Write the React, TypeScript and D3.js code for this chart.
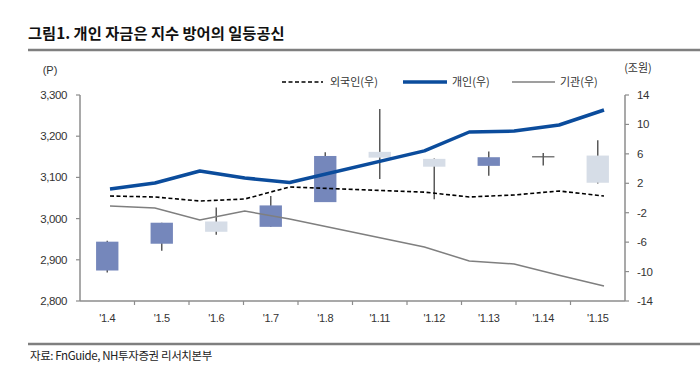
import React from "react";
import * as d3 from "d3";

// ---- data ----
const categories = ["'1.4", "'1.5", "'1.6", "'1.7", "'1.8", "'1.11", "'1.12", "'1.13", "'1.14", "'1.15"];
const openV = [2874, 2939, 2993, 2980, 3040, 3162, 3145, 3128, 3150, 3153];
const highV = [2946, 2990, 3027, 3055, 3161, 3266, 3146, 3163, 3159, 3190];
const lowV = [2869, 2922, 2961, 2980, 3040, 3096, 3047, 3104, 3129, 3085];
const closeV = [2944, 2990, 2968, 3032, 3152, 3148, 3126, 3149, 3150, 3087];

const lineDates = ["2021-01-04", "2021-01-05", "2021-01-06", "2021-01-07", "2021-01-08", "2021-01-11", "2021-01-12", "2021-01-13", "2021-01-14", "2021-01-15"];
const foreignV = [0.27, 0.14, -0.41, -0.14, 1.5, 0.8, 0.14, 0.41, 0.95, 0.27];
const retailV = [1.22, 2.04, 3.67, 2.72, 2.1, 6.4, 8.97, 9.1, 9.92, 11.96];
const instV = [-1.09, -1.36, -2.99, -1.77, -2.85, -6.66, -8.56, -8.97, -10.5, -11.96];

const leftTicks = [2800, 2900, 3000, 3100, 3200, 3300];
const rightTicks = [-14, -10, -6, -2, 2, 6, 10, 14];

const title = "그림1. 개인 자금은 지수 방어의 일등공신";
const source = "자료: FnGuide, NH투자증권 리서치본부";
const legendNames = ["외국인(우)", "개인(우)", "기관(우)"];

export default function App() {
  const W = 700, H = 383;
  const L = 80, R = 625, T = 95, B = 301;
  const x = d3.scaleBand<string>().domain(categories).range([L, R]).paddingInner(0).paddingOuter(0);
  const yL = d3.scaleLinear().domain([2800, 3300]).range([B, T]);
  const yR = d3.scaleLinear().domain([-14, 14]).range([B, T]);
  const parse = d3.timeParse("%Y-%m-%d");
  const dates = lineDates.map((d) => parse(d) as Date);
  const xT = d3.scaleTime().domain([dates[0], dates[dates.length - 1]]).range([L + 30, R - 21]);
  const bw = x.bandwidth() * 0.41;

  const mk = (vals: number[]) =>
    d3.line<number>().x((_, i) => xT(dates[i])).y((v) => yR(v))(vals) || "";

  const sans = "'Liberation Sans', Arial, sans-serif";
  const kr = "'Noto Sans CJK KR', 'Noto Sans', sans-serif";
  const axisCol = "#8c8c8c";
  const upCol = "#7587bb";
  const downCol = "#d6dde7";
  const wickCol = "#5a5a5a";

  return (
    <svg width={W} height={H} style={{ position: "absolute", left: 0, top: 0, background: "#fff" }}>
      <rect x={0} y={0} width={W} height={H} fill="#fff" />
      <text x={28} y={39} fontFamily={kr} fontWeight="bold" fontSize={15.3} fill="#111">{title}</text>
      <line x1={28} x2={700} y1={50} y2={50} stroke="#7f7f7f" strokeWidth={2.5} />

      <text x={50} y={74} textAnchor="middle" fontFamily={sans} fontSize={11} fill="#333">(P)</text>
      <text x={638} y={72} textAnchor="middle" fontFamily={kr} fontSize={11} fill="#333">(조원)</text>

      {/* legend */}
      <g>
        <line x1={282} x2={323} y1={82} y2={82} stroke="#000" strokeWidth={1.5} strokeDasharray="4,2.5" />
        <text x={330} y={86} fontFamily={kr} fontSize={11} fill="#333">{legendNames[0]}</text>
        <line x1={403} x2={447} y1={82} y2={82} stroke="#0b4c9c" strokeWidth={3.5} />
        <text x={452} y={86} fontFamily={kr} fontSize={11} fill="#333">{legendNames[1]}</text>
        <line x1={512} x2={555} y1={82} y2={82} stroke="#7f7f7f" strokeWidth={1.3} />
        <text x={560} y={86} fontFamily={kr} fontSize={11} fill="#333">{legendNames[2]}</text>
      </g>

      {/* axes */}
      <line x1={L} x2={L} y1={T} y2={B} stroke={axisCol} strokeWidth={1.5} />
      <line x1={R} x2={R} y1={T} y2={B} stroke={axisCol} strokeWidth={1.5} />
      <line x1={L} x2={R} y1={B} y2={B} stroke={axisCol} strokeWidth={1.5} />
      {leftTicks.map((t) => (
        <g key={"l" + t}>
          <line x1={L - 4} x2={L} y1={yL(t)} y2={yL(t)} stroke={axisCol} strokeWidth={1.2} />
          <text x={67} y={yL(t) + 4} textAnchor="end" fontFamily={sans} fontSize={11.5} letterSpacing={-0.4} fill="#333">
            {d3.format(",")(t)}
          </text>
        </g>
      ))}
      {rightTicks.map((t) => (
        <g key={"r" + t}>
          <line x1={R} x2={R + 4} y1={yR(t)} y2={yR(t)} stroke={axisCol} strokeWidth={1.2} />
          <text x={637} y={yR(t) + 4} fontFamily={sans} fontSize={11.5} letterSpacing={-0.4} fill="#333">{t}</text>
        </g>
      ))}
      {categories.map((c, i) => (
        <g key={"x" + c}>
          {i > 0 && <line x1={x(c)!} x2={x(c)!} y1={B} y2={B + 4} stroke={axisCol} strokeWidth={1.2} />}
          <text x={x(c)! + x.bandwidth() / 2} y={322} textAnchor="middle" fontFamily={sans} fontSize={11} letterSpacing={-0.4} fill="#333">{c}</text>
        </g>
      ))}

      {/* candles */}
      {categories.map((c, i) => {
        const cx = x(c)! + x.bandwidth() / 2;
        const o = openV[i], cl = closeV[i];
        const top = yL(Math.max(o, cl)), bot = yL(Math.min(o, cl));
        const doji = Math.abs(o - cl) < 2;
        return (
          <g key={"c" + c}>
            <line x1={cx} x2={cx} y1={yL(highV[i])} y2={yL(lowV[i])} stroke={wickCol} strokeWidth={1.5} />
            {doji ? (
              <line x1={cx - bw / 2} x2={cx + bw / 2} y1={top} y2={top} stroke={wickCol} strokeWidth={1.2} />
            ) : (
              <rect x={cx - bw / 2} y={top} width={bw} height={bot - top} fill={cl > o ? upCol : downCol} />
            )}
          </g>
        );
      })}

      {/* lines */}
      <path d={mk(instV)} fill="none" stroke="#7f7f7f" strokeWidth={1.5} />
      <path d={mk(foreignV)} fill="none" stroke="#000" strokeWidth={1.6} strokeDasharray="4,2.5" />
      <path d={mk(retailV)} fill="none" stroke="#0b4c9c" strokeWidth={3.5} strokeLinejoin="round" />

      <line x1={28} x2={700} y1={344} y2={344} stroke="#7f7f7f" strokeWidth={2.5} />
      <text x={30} y={360} fontFamily={kr} fontSize={11.5} letterSpacing={-0.4} fill="#222">{source}</text>
    </svg>
  );
}
